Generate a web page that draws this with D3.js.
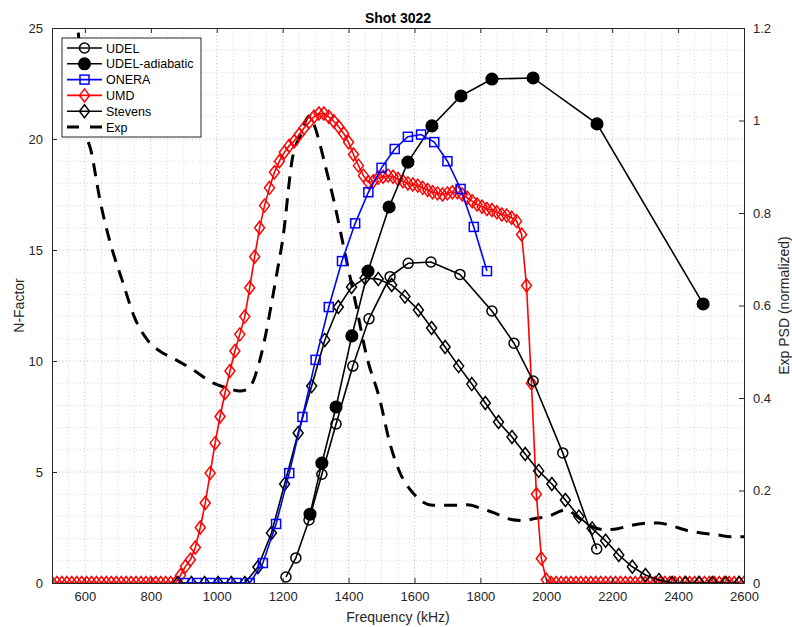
<!DOCTYPE html>
<html>
<head>
<meta charset="utf-8">
<script src="https://d3js.org/d3.v7.min.js"></script>
<style>
  body { margin: 0; background: #fff; }
  svg { font-family: "Liberation Sans", Arial, sans-serif; }
</style>
</head>
<body>
<div id="chart"></div>
<script>
// N-Factor data (left axis)
const freqUDEL = [1210, 1240, 1280, 1319, 1362, 1413, 1462, 1526, 1581, 1650, 1738, 1835, 1902, 1960, 2050, 2153];
const nUDEL = [0.27, 1.13, 2.84, 4.9, 7.16, 9.77, 11.9, 13.8, 14.4, 14.46, 13.9, 12.25, 10.8, 9.1, 5.86, 1.53];

const freqAdiabatic = [1283, 1319, 1362, 1410, 1459, 1523, 1580, 1653, 1741, 1835, 1960, 2154, 2476];
const nAdiabatic = [3.1, 5.4, 7.93, 11.13, 14.05, 16.94, 18.96, 20.59, 21.94, 22.7, 22.75, 20.68, 12.57];

const freqONERA = [900, 940, 980, 1020, 1060, 1100, 1140, 1180, 1220, 1260, 1300, 1340, 1380, 1420, 1460, 1500,
  1540, 1580, 1620, 1660, 1700, 1740, 1780, 1820];
const nONERA = [0, 0, 0, 0, 0, 0, 0.9, 2.66, 4.95, 7.48, 10.05, 12.43, 14.5, 16.2, 17.6, 18.7,
  19.55, 20.1, 20.2, 19.86, 19.0, 17.75, 16.04, 14.05];

const freqUMD = [500, 515, 530, 545, 560, 575, 590, 605, 620, 635, 650, 665, 680, 695, 710, 725, 740, 755, 770, 785,
  800, 815, 830, 845, 860, 875, 890, 905, 920, 935, 950, 965, 980, 995, 1010, 1025, 1040, 1055, 1070, 1085,
  1100, 1115, 1130, 1145, 1160, 1175, 1190, 1205, 1220, 1235, 1250, 1265, 1280, 1295, 1310, 1325, 1340, 1355,
  1370, 1385, 1400, 1415, 1430, 1445, 1460, 1475, 1490, 1505, 1520, 1535, 1550, 1565, 1580, 1595, 1610, 1625,
  1640, 1655, 1670, 1685, 1700, 1715, 1730, 1745, 1760, 1775, 1790, 1805, 1820, 1835, 1850, 1865, 1880, 1895,
  1910, 1925, 1940, 1955, 1970, 1985, 2000, 2015, 2030, 2045, 2060, 2075, 2090, 2105, 2120, 2135, 2150, 2165,
  2180, 2195, 2210, 2225, 2240, 2255, 2270, 2285, 2300, 2315, 2330, 2345, 2360, 2375, 2390, 2405, 2420, 2435,
  2450, 2465, 2480, 2495, 2510, 2525, 2540, 2555, 2570, 2585, 2600];
const nUMD = [0, 0, 0, 0, 0, 0, 0, 0, 0, 0, 0, 0, 0, 0, 0, 0, 0, 0, 0, 0,
  0, 0, 0, 0, 0, 0, 0.35, 0.75, 1.05, 1.6, 2.5, 3.6, 4.95, 6.3, 7.5, 8.56, 9.55, 10.45, 11.2, 12.0,
  13.3, 14.7, 16.0, 17.0, 17.8, 18.5, 19.0, 19.4, 19.7, 19.9, 20.2, 20.5, 20.75, 21.0, 21.15, 21.15, 21.0, 20.8,
  20.55, 20.25, 19.85, 19.3, 18.8, 18.35, 18.05, 18.1, 18.25, 18.3, 18.35, 18.3, 18.2, 18.1, 18.0, 17.95, 17.9, 17.8,
  17.7, 17.6, 17.55, 17.5, 17.55, 17.6, 17.6, 17.5, 17.35, 17.2, 17.05, 16.95, 16.85, 16.8, 16.7, 16.6, 16.55, 16.45,
  16.3, 15.7, 13.4, 9.0, 4.0, 1.1, 0.15, 0, 0, 0, 0, 0, 0, 0, 0, 0, 0, 0,
  0, 0, 0, 0, 0, 0, 0, 0, 0, 0, 0, 0, 0, 0, 0, 0, 0, 0,
  0, 0, 0, 0, 0, 0, 0, 0, 0, 0, 0];

const freqStevens = [882, 923, 963, 1004, 1044, 1085, 1125, 1166, 1206, 1247, 1288, 1328, 1369, 1409, 1450, 1490,
  1531, 1571, 1612, 1652, 1693, 1734, 1774, 1815, 1855, 1896, 1936, 1977, 2017, 2058, 2099, 2139, 2180, 2220,
  2261, 2301, 2342, 2382, 2423, 2463, 2504, 2545, 2585];
const nStevens = [0, 0, 0, 0, 0, 0, 0.72, 2.25, 4.46, 6.76, 8.87, 10.95, 12.43, 13.33, 13.74, 13.69,
  13.42, 12.9, 12.3, 11.49, 10.63, 9.77, 8.96, 8.11, 7.25, 6.58, 5.81, 5.05, 4.46, 3.74, 2.99, 2.46, 1.9, 1.26,
  0.73, 0.36, 0.14, 0, 0, 0, 0, 0, 0];

// Experimental PSD (right axis, normalized)
const freqExp = [580, 590, 600, 620, 645, 675, 715, 750, 790, 830, 870, 930, 990, 1030, 1070, 1090, 1105, 1125,
  1145, 1165, 1185, 1200, 1230, 1255, 1270, 1280, 1290, 1305, 1330, 1355, 1385, 1420, 1455, 1495, 1525, 1555,
  1595, 1655, 1710, 1760, 1800, 1840, 1890, 1930, 1970, 2000, 2060, 2100, 2140, 2180, 2220, 2260, 2300, 2340,
  2380, 2420, 2470, 2520, 2560, 2600];
const psdExp = [1.19, 1.07, 0.99, 0.93, 0.83, 0.74, 0.65, 0.575, 0.525, 0.5, 0.485, 0.46, 0.432, 0.422, 0.415, 0.418, 0.428, 0.467,
  0.525, 0.6, 0.68, 0.742, 0.92, 0.97, 1.0, 1.01, 1.0, 0.97, 0.9, 0.828, 0.727, 0.61, 0.49, 0.396, 0.303, 0.24,
  0.195, 0.168, 0.168, 0.169, 0.162, 0.152, 0.138, 0.135, 0.14, 0.143, 0.158, 0.14, 0.122, 0.115, 0.118, 0.125, 0.129, 0.13,
  0.124, 0.115, 0.108, 0.104, 0.1, 0.1];

const xTicks = [600, 800, 1000, 1200, 1400, 1600, 1800, 2000, 2200, 2400, 2600];
const yTicks = [0, 5, 10, 15, 20, 25];
const y2Ticks = [0, 0.2, 0.4, 0.6, 0.8, 1, 1.2];

const W = 792, H = 627;
const margin = {top: 28, right: 48, bottom: 44, left: 52};
const width = W - margin.left - margin.right;
const height = H - margin.top - margin.bottom;
const axisColor = "#262626";

const svg = d3.select("#chart").append("svg")
  .attr("width", W)
  .attr("height", H);

const g = svg.append("g")
  .attr("transform", "translate(" + margin.left + "," + margin.top + ")");

const x = d3.scaleLinear().domain([500, 2600]).range([0, width]);
const y = d3.scaleLinear().domain([0, 25]).range([height, 0]);
const y2 = d3.scaleLinear().domain([0, 1.2]).range([height, 0]);

g.append("rect").attr("width", width).attr("height", height).attr("fill", "#fff");

// grid (minor every 50 kHz / 1 unit, major dotted a bit darker)
const gridX = d3.range(550, 2600, 50);
const gridY = d3.range(1, 25, 1);
g.append("g").selectAll("line").data(gridX).join("line")
  .attr("x1", d => x(d)).attr("x2", d => x(d))
  .attr("y1", 0).attr("y2", height)
  .attr("stroke", d => d % 200 === 0 ? "#bdbdbd" : "#d6d6d6")
  .attr("stroke-width", 1)
  .attr("stroke-dasharray", "1,2.5");
g.append("g").selectAll("line").data(gridY).join("line")
  .attr("x1", 0).attr("x2", width)
  .attr("y1", d => y(d)).attr("y2", d => y(d))
  .attr("stroke", d => d % 5 === 0 ? "#bdbdbd" : "#d6d6d6")
  .attr("stroke-width", 1)
  .attr("stroke-dasharray", "1,2.5");

svg.append("clipPath").attr("id", "plotclip")
  .append("rect").attr("width", width).attr("height", height);

const plot = g.append("g").attr("clip-path", "url(#plotclip)");

function zip(xs, ys) {
  return xs.map((f, i) => ({f: f, v: ys[i]}));
}

const diamondPath = "M0,-6.5L5,0L0,6.5L-5,0Z";

function drawSeries(data, color, marker, fill) {
  const line = d3.line().x(d => x(d.f)).y(d => y(d.v));
  plot.append("path")
    .datum(data)
    .attr("fill", "none")
    .attr("stroke", color)
    .attr("stroke-width", 1.6)
    .attr("d", line);
  const m = plot.append("g");
  data.forEach(d => {
    drawMarker(m, x(d.f), y(d.v), color, marker, fill);
  });
}

function drawMarker(sel, cx, cy, color, marker, fill) {
  if (marker === "circle") {
    sel.append("circle").attr("cx", cx).attr("cy", cy)
      .attr("r", fill ? 5.8 : 5)
      .attr("fill", fill ? color : "none")
      .attr("stroke", color).attr("stroke-width", 1.5);
  } else if (marker === "square") {
    sel.append("rect").attr("x", cx - 4.5).attr("y", cy - 4.5)
      .attr("width", 9).attr("height", 9)
      .attr("fill", "none").attr("stroke", color).attr("stroke-width", 1.5);
  } else if (marker === "diamond") {
    sel.append("path").attr("transform", "translate(" + cx + "," + cy + ")")
      .attr("d", diamondPath)
      .attr("fill", "none").attr("stroke", color).attr("stroke-width", 1.5);
  }
}

// Exp PSD (right axis)
const expLine = d3.line().curve(d3.curveMonotoneX).x(d => x(d.f)).y(d => y2(d.v));
plot.append("path")
  .datum(zip(freqExp, psdExp))
  .attr("fill", "none")
  .attr("stroke", "#000")
  .attr("stroke-width", 3)
  .attr("stroke-dasharray", "13,9")
  .attr("d", expLine);

drawSeries(zip(freqUMD, nUMD), "#ff0000", "diamond", false);
drawSeries(zip(freqStevens, nStevens), "#000", "diamond", false);
drawSeries(zip(freqUDEL, nUDEL), "#000", "circle", false);
drawSeries(zip(freqAdiabatic, nAdiabatic), "#000", "circle", true);
drawSeries(zip(freqONERA, nONERA), "#0000ff", "square", false);

// axes
const xBottom = g.append("g").attr("transform", "translate(0," + height + ")")
  .call(d3.axisBottom(x).tickValues(xTicks).tickSizeInner(-5).tickSizeOuter(0).tickPadding(9)
    .tickFormat(d => String(d)));
const xTop = g.append("g")
  .call(d3.axisTop(x).tickValues(xTicks).tickSizeInner(-5).tickSizeOuter(0).tickFormat(""));
const yLeft = g.append("g")
  .call(d3.axisLeft(y).tickValues(yTicks).tickSizeInner(-5).tickSizeOuter(0).tickPadding(9)
    .tickFormat(d => String(d)));
const yRight = g.append("g").attr("transform", "translate(" + width + ",0)")
  .call(d3.axisRight(y2).tickValues(y2Ticks).tickSizeInner(-5).tickSizeOuter(0).tickPadding(9)
    .tickFormat(d => String(d)));

[xBottom, xTop, yLeft, yRight].forEach(a => {
  a.select(".domain").attr("stroke", axisColor).attr("stroke-width", 1);
  a.selectAll(".tick line").attr("stroke", axisColor);
  a.selectAll(".tick text").attr("fill", axisColor)
    .style("font-size", "13px")
    .style("font-family", "'Liberation Sans', Arial, sans-serif");
});

// title and labels
svg.append("text")
  .attr("x", margin.left + width / 2).attr("y", 23)
  .attr("text-anchor", "middle")
  .attr("font-weight", "bold")
  .attr("font-size", "14px")
  .attr("fill", "#000")
  .text("Shot 3022");

svg.append("text")
  .attr("x", margin.left + width / 2).attr("y", 622)
  .attr("text-anchor", "middle")
  .attr("font-size", "14px")
  .attr("fill", axisColor)
  .text("Frequency (kHz)");

svg.append("text")
  .attr("transform", "translate(24," + (margin.top + height / 2) + ") rotate(-90)")
  .attr("text-anchor", "middle")
  .attr("font-size", "14px")
  .attr("fill", axisColor)
  .text("N-Factor");

svg.append("text")
  .attr("transform", "translate(789," + (margin.top + height / 2) + ") rotate(-90)")
  .attr("text-anchor", "middle")
  .attr("font-size", "14px")
  .attr("fill", axisColor)
  .text("Exp PSD (normalized)");

// legend
const legendNames = ["UDEL", "UDEL-adiabatic", "ONERA", "UMD", "Stevens", "Exp"];
const legendColors = ["#000", "#000", "#0000ff", "#ff0000", "#000", "#000"];
const legendMarkers = ["circle", "circle", "square", "diamond", "diamond", "dash"];
const legendFill = [false, true, false, false, false, false];

const leg = svg.append("g").attr("transform", "translate(62,38)");
leg.append("rect")
  .attr("width", 139).attr("height", 99)
  .attr("fill", "#fff")
  .attr("stroke", axisColor).attr("stroke-width", 1);

legendNames.forEach((name, i) => {
  const cy = 10 + i * 15.8;
  const row = leg.append("g");
  row.append("line")
    .attr("x1", 5).attr("x2", 40).attr("y1", cy).attr("y2", cy)
    .attr("stroke", legendColors[i])
    .attr("stroke-width", legendMarkers[i] === "dash" ? 3 : 1.6)
    .attr("stroke-dasharray", legendMarkers[i] === "dash" ? "12,11" : null);
  if (legendMarkers[i] !== "dash") {
    drawMarker(row, 22.5, cy, legendColors[i], legendMarkers[i], legendFill[i]);
  }
  row.append("text")
    .attr("x", 44).attr("y", cy + 4.5)
    .attr("font-size", "12.5px")
    .attr("fill", "#000")
    .text(name);
});
</script>
</body>
</html>
